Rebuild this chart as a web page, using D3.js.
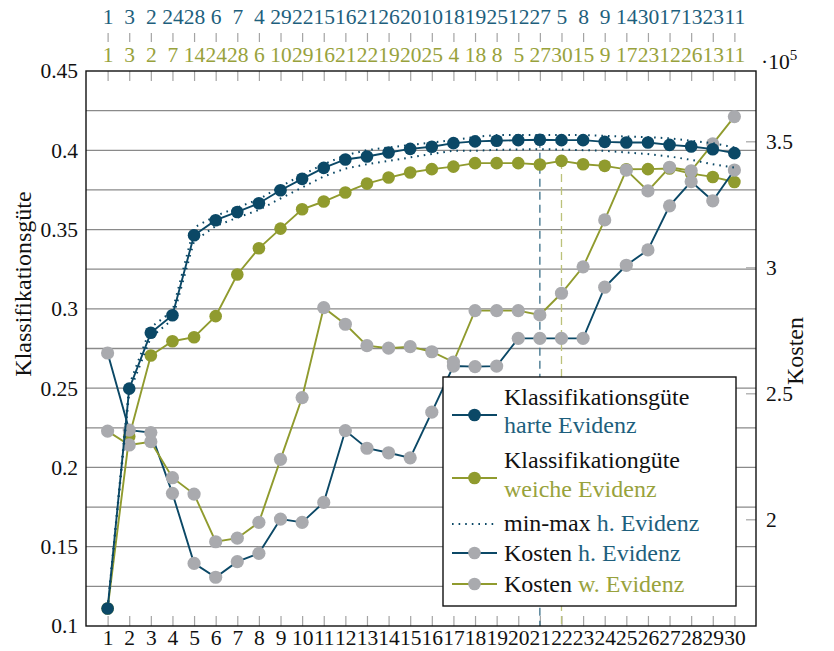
<!DOCTYPE html>
<html>
<head>
<meta charset="utf-8">
<script src="https://cdn.jsdelivr.net/npm/d3@7"></script>
<style>
  html, body { margin: 0; padding: 0; background: #fff; }
  svg { display: block; }
</style>
</head>
<body>
<svg id="chart" width="834" height="651"></svg>
<script>
// Iterations on the x axis
const iterations = d3.range(1, 31);

// Feature order shown above the plot (hard / soft evidence)
const orderHard = [1, 3, 2, 24, 28, 6, 7, 4, 29, 22, 15, 16, 21, 26, 20, 10, 18, 19, 25, 12, 27, 5, 8, 9, 14, 30, 17, 13, 23, 11];
const orderSoft = [1, 3, 2, 7, 14, 24, 28, 6, 10, 29, 16, 21, 22, 19, 20, 25, 4, 18, 8, 5, 27, 30, 15, 9, 17, 23, 12, 26, 13, 11];

// Klassifikationsgüte, harte Evidenz, with min/max band
const qualityHard = [0.111, 0.2497, 0.2849, 0.296, 0.3464, 0.3559, 0.3611, 0.3666, 0.3748, 0.382, 0.3889, 0.3942, 0.3961, 0.3986, 0.4009, 0.4022, 0.4045, 0.4056, 0.406, 0.4064, 0.4066, 0.4064, 0.4064, 0.4053, 0.4049, 0.4049, 0.4034, 0.4024, 0.4007, 0.3982];
const qualityHardMax = [0.111, 0.252, 0.2883, 0.2986, 0.3513, 0.3586, 0.3639, 0.3691, 0.3771, 0.3845, 0.3912, 0.3969, 0.4001, 0.4018, 0.4034, 0.4049, 0.4064, 0.4085, 0.4096, 0.4096, 0.4096, 0.4096, 0.4096, 0.4091, 0.4087, 0.4083, 0.4075, 0.406, 0.4045, 0.4018];
const qualityHardMin = [0.111, 0.247, 0.282, 0.2933, 0.3427, 0.3522, 0.3575, 0.3624, 0.3696, 0.3765, 0.3835, 0.3885, 0.3912, 0.3933, 0.3955, 0.3976, 0.3997, 0.3997, 0.4003, 0.4005, 0.4007, 0.4005, 0.4001, 0.3997, 0.3986, 0.3976, 0.3961, 0.394, 0.3912, 0.3891];

// Klassifikationsgüte, weiche Evidenz
const qualitySoft = [0.111, 0.2195, 0.2706, 0.2796, 0.2821, 0.2954, 0.3217, 0.3382, 0.3506, 0.3628, 0.3677, 0.3734, 0.379, 0.3828, 0.386, 0.3881, 0.3897, 0.3919, 0.3919, 0.3919, 0.391, 0.3933, 0.3912, 0.3902, 0.388, 0.3881, 0.3885, 0.3853, 0.3832, 0.38];

// Kosten (x 10^5)
const costHard = [2.660, 2.354, 2.344, 2.103, 1.825, 1.770, 1.832, 1.865, 2.001, 1.988, 2.067, 2.352, 2.282, 2.264, 2.244, 2.425, 2.608, 2.606, 2.608, 2.718, 2.718, 2.718, 2.718, 2.921, 3.008, 3.069, 3.244, 3.340, 3.264, 3.386];
const costSoft = [2.350, 2.295, 2.308, 2.165, 2.100, 1.911, 1.925, 1.988, 2.238, 2.483, 2.840, 2.774, 2.689, 2.679, 2.685, 2.665, 2.624, 2.828, 2.828, 2.828, 2.811, 2.897, 3.002, 3.188, 3.386, 3.303, 3.397, 3.383, 3.490, 3.598];

// Tick values
const leftTicks = [0.1, 0.15, 0.2, 0.25, 0.3, 0.35, 0.4, 0.45];
const gridValues = d3.range(0.125, 0.44, 0.025);
const rightTicks = [2, 2.5, 3, 3.5];

const FONT = "'Liberation Serif', 'Times New Roman', Times, serif";
const TEAL = "#0b4866";
const TEAL_TEXT = "#1e5f7d";
const OLIVE = "#909b2e";
const OLIVE_TEXT = "#98a23c";
const GRAY = "#a9aaae";
const TICK = "#a4a4a4";

const svg = d3.select("#chart").attr("font-family", FONT);
const L = 86, R = 756, T = 71, B = 626;

const x = d3.scaleLinear().domain([0, 31]).range([L, R]);
const yL = d3.scaleLinear().domain([0.1, 0.45]).range([B, T]);
const yR = d3.scaleLinear().domain([1.5766, 3.779]).range([B, T]);

// grid
svg.append("g").selectAll("line").data(gridValues).join("line")
  .attr("x1", L).attr("x2", R)
  .attr("y1", d => yL(d)).attr("y2", d => yL(d))
  .attr("stroke", "#8a8a8a").attr("stroke-width", 1.3);

// axes
const fontTick = 21.5;
function styleAxis(g, textColor, lineColor) {
  g.attr("font-family", FONT).attr("font-size", fontTick);
  g.select(".domain").remove();
  g.selectAll("line").attr("stroke", lineColor).attr("stroke-width", 1.2);
  g.selectAll("text").attr("fill", textColor);
}

svg.append("g").attr("transform", `translate(${L},0)`)
  .call(d3.axisLeft(yL).tickValues(leftTicks).tickSize(0).tickPadding(8)
    .tickFormat(d => String(+d.toFixed(2))))
  .call(g => styleAxis(g, "#111", TICK));

svg.append("g").attr("transform", `translate(0,${B})`)
  .call(d3.axisBottom(x).tickValues(iterations).tickSizeInner(-10).tickSizeOuter(0).tickPadding(4))
  .call(g => styleAxis(g, "#111", TICK));

svg.append("g").attr("transform", `translate(0,${T})`)
  .call(d3.axisTop(x).tickValues(iterations).tickSizeInner(-10).tickSizeOuter(0).tickPadding(9)
    .tickFormat(d => orderSoft[d - 1]))
  .call(g => styleAxis(g, OLIVE_TEXT, TICK));

svg.append("g").attr("transform", `translate(0,42)`)
  .call(d3.axisTop(x).tickValues(iterations).tickSizeInner(9).tickSizeOuter(0).tickPadding(9)
    .tickFormat(d => orderHard[d - 1]))
  .call(g => styleAxis(g, TEAL_TEXT, TICK));

svg.append("g").attr("transform", `translate(${R},0)`)
  .call(d3.axisRight(yR).tickValues(rightTicks).tickSizeInner(-10).tickSizeOuter(0).tickPadding(10)
    .tickFormat(d => String(d)))
  .call(g => styleAxis(g, "#111", TICK));

// axis titles
svg.append("text").attr("transform", "translate(31,284) rotate(-90)")
  .attr("text-anchor", "middle").attr("font-size", 24).attr("fill", "#111")
  .attr("font-family", FONT).text("Klassifikationsgüte");
svg.append("text").attr("transform", "translate(803,351) rotate(-90)")
  .attr("text-anchor", "middle").attr("font-size", 24).attr("fill", "#111")
  .attr("font-family", FONT).text("Kosten");
const exp = svg.append("text").attr("x", 761).attr("y", 69).attr("font-size", 21.5)
  .attr("fill", "#111").attr("font-family", FONT);
exp.append("tspan").text("·10");
exp.append("tspan").attr("font-size", 15).attr("dy", -9).text("5");

// best-iteration markers
const bestHard = d3.maxIndex(qualityHard);
const bestSoft = d3.maxIndex(qualitySoft);
svg.append("line")
  .attr("x1", x(iterations[bestHard])).attr("x2", x(iterations[bestHard]))
  .attr("y1", yL(qualityHard[bestHard])).attr("y2", B)
  .attr("stroke", "#3b6f89").attr("stroke-width", 1.3).attr("stroke-dasharray", "8,5");
svg.append("line")
  .attr("x1", x(iterations[bestSoft])).attr("x2", x(iterations[bestSoft]))
  .attr("y1", yL(qualitySoft[bestSoft])).attr("y2", B)
  .attr("stroke", "#bcc27a").attr("stroke-width", 1.3).attr("stroke-dasharray", "8,5");

function series(values, yScale, lineColor, markerColor, r) {
  const pts = values.map((v, i) => [x(iterations[i]), yScale(v)]);
  const g = svg.append("g");
  g.append("path").attr("d", d3.line()(pts)).attr("fill", "none")
    .attr("stroke", lineColor).attr("stroke-width", 1.9);
  g.selectAll("circle").data(pts).join("circle")
    .attr("cx", d => d[0]).attr("cy", d => d[1]).attr("r", r).attr("fill", markerColor);
}

series(qualitySoft, yL, OLIVE, OLIVE, 6.3);
series(costHard, yR, TEAL, GRAY, 6.6);
series(costSoft, yR, OLIVE, GRAY, 6.6);

// min-max band of the hard-evidence runs
[qualityHardMax, qualityHardMin].forEach(vals => {
  svg.append("path")
    .attr("d", d3.line()(vals.map((v, i) => [x(iterations[i]), yL(v)])))
    .attr("fill", "none").attr("stroke", TEAL).attr("stroke-width", 2)
    .attr("stroke-dasharray", "1.6,5");
});

series(qualityHard, yL, TEAL, TEAL, 6.3);

// frame
svg.append("rect").attr("x", L).attr("y", T).attr("width", R - L).attr("height", B - T)
  .attr("fill", "none").attr("stroke", "#111").attr("stroke-width", 1.4);

// legend
const lg = svg.append("g").attr("font-family", FONT);
lg.append("rect").attr("x", 443).attr("y", 377).attr("width", 293).attr("height", 229)
  .attr("fill", "#fff").attr("stroke", "#111").attr("stroke-width", 1.4);

const legendRows = [
  { y: 415, line: TEAL, marker: TEAL, dotted: false,
    lines: [[{ t: "Klassifikationsgüte", c: "#111" }], [{ t: "harte Evidenz", c: TEAL_TEXT }]], base: [405, 433] },
  { y: 478, line: OLIVE, marker: OLIVE, dotted: false,
    lines: [[{ t: "Klassifikationgüte", c: "#111" }], [{ t: "weiche Evidenz", c: OLIVE_TEXT }]], base: [468, 497] },
  { y: 524, line: TEAL, marker: null, dotted: true,
    lines: [[{ t: "min-max ", c: "#111" }, { t: "h. Evidenz", c: TEAL_TEXT }]], base: [531] },
  { y: 553, line: TEAL, marker: GRAY, dotted: false,
    lines: [[{ t: "Kosten ", c: "#111" }, { t: "h. Evidenz", c: TEAL_TEXT }]], base: [561] },
  { y: 584, line: OLIVE, marker: GRAY, dotted: false,
    lines: [[{ t: "Kosten ", c: "#111" }, { t: "w. Evidenz", c: OLIVE_TEXT }]], base: [592] }
];

legendRows.forEach(row => {
  const ln = lg.append("line").attr("x1", 452).attr("x2", 497).attr("y1", row.y).attr("y2", row.y)
    .attr("stroke", row.line).attr("stroke-width", row.dotted ? 2 : 1.9);
  if (row.dotted) ln.attr("stroke-dasharray", "1.6,5");
  if (row.marker) lg.append("circle").attr("cx", 474.5).attr("cy", row.y).attr("r", 6.3).attr("fill", row.marker);
  row.lines.forEach((parts, k) => {
    const t = lg.append("text").attr("x", 504).attr("y", row.base[k]).attr("font-size", 24);
    parts.forEach(p => t.append("tspan").attr("fill", p.c).text(p.t));
  });
});
</script>
</body>
</html>
